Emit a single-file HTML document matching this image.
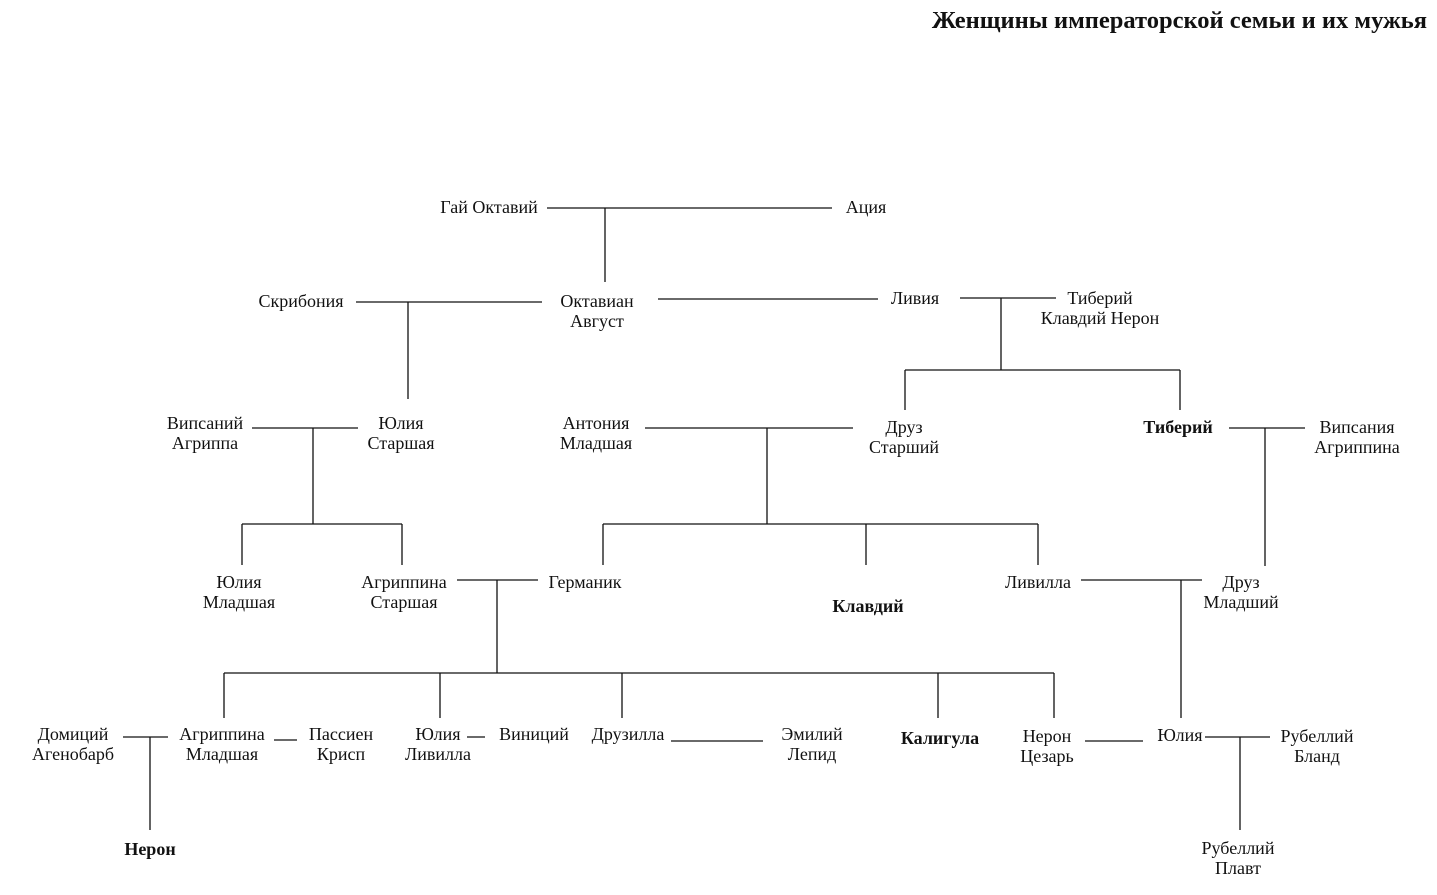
<!DOCTYPE html>
<html><head><meta charset="utf-8"><style>
html,body{margin:0;padding:0;background:#fff;}
svg{display:block;}
text{font-family:"Liberation Serif",serif;font-size:18px;fill:#111;}
.b{font-weight:bold;}
line{stroke:#111;stroke-width:1.3;}
</style></head><body>
<svg width="1437" height="895" viewBox="0 0 1437 895" xmlns="http://www.w3.org/2000/svg">
<text x="1427" y="28" text-anchor="end" class="b" style="font-size:24.5px">Женщины императорской семьи и их мужья</text>

<g text-anchor="middle">
<text x="489" y="213">Гай Октавий</text>
<text x="866" y="213">Ация</text>
<text x="301" y="307">Скрибония</text>
<text x="597" y="307">Октавиан</text><text x="597" y="327">Август</text>
<text x="915" y="304">Ливия</text>
<text x="1100" y="304">Тиберий</text><text x="1100" y="324">Клавдий Нерон</text>
<text x="205" y="429">Випсаний</text><text x="205" y="449">Агриппа</text>
<text x="401" y="429">Юлия</text><text x="401" y="449">Старшая</text>
<text x="596" y="429">Антония</text><text x="596" y="449">Младшая</text>
<text x="904" y="433">Друз</text><text x="904" y="453">Старший</text>
<text x="1178" y="433" class="b">Тиберий</text>
<text x="1357" y="433">Випсания</text><text x="1357" y="453">Агриппина</text>
<text x="239" y="588">Юлия</text><text x="239" y="608">Младшая</text>
<text x="404" y="588">Агриппина</text><text x="404" y="608">Старшая</text>
<text x="585" y="588">Германик</text>
<text x="868" y="612" class="b">Клавдий</text>
<text x="1038" y="588">Ливилла</text>
<text x="1241" y="588">Друз</text><text x="1241" y="608">Младший</text>
<text x="73" y="740">Домиций</text><text x="73" y="760">Агенобарб</text>
<text x="222" y="740">Агриппина</text><text x="222" y="760">Младшая</text>
<text x="341" y="740">Пассиен</text><text x="341" y="760">Крисп</text>
<text x="438" y="740">Юлия</text><text x="438" y="760">Ливилла</text>
<text x="534" y="740">Виниций</text>
<text x="628" y="740">Друзилла</text>
<text x="812" y="740">Эмилий</text><text x="812" y="760">Лепид</text>
<text x="940" y="744" class="b">Калигула</text>
<text x="1047" y="742">Нерон</text><text x="1047" y="762">Цезарь</text>
<text x="1180" y="741">Юлия</text>
<text x="1317" y="742">Рубеллий</text><text x="1317" y="762">Бланд</text>
<text x="150" y="855" class="b">Нерон</text>
<text x="1238" y="854">Рубеллий</text><text x="1238" y="874">Плавт</text>
</g>

<line x1="547" y1="208" x2="832" y2="208"/><line x1="605" y1="208" x2="605" y2="282"/>
<line x1="356" y1="302" x2="542" y2="302"/><line x1="408" y1="302" x2="408" y2="399"/>
<line x1="658" y1="299" x2="878" y2="299"/>
<line x1="960" y1="298" x2="1056" y2="298"/><line x1="1001" y1="298" x2="1001" y2="370"/>
<line x1="905" y1="370" x2="1180" y2="370"/><line x1="905" y1="370" x2="905" y2="410"/><line x1="1180" y1="370" x2="1180" y2="410"/>
<line x1="252" y1="428" x2="358" y2="428"/><line x1="313" y1="428" x2="313" y2="524"/>
<line x1="242" y1="524" x2="402" y2="524"/><line x1="242" y1="524" x2="242" y2="565"/><line x1="402" y1="524" x2="402" y2="565"/>
<line x1="645" y1="428" x2="853" y2="428"/><line x1="767" y1="428" x2="767" y2="524"/>
<line x1="603" y1="524" x2="1038" y2="524"/><line x1="603" y1="524" x2="603" y2="565"/><line x1="866" y1="524" x2="866" y2="565"/><line x1="1038" y1="524" x2="1038" y2="565"/>
<line x1="1229" y1="428" x2="1305" y2="428"/><line x1="1265" y1="428" x2="1265" y2="566"/>
<line x1="457" y1="580" x2="538" y2="580"/><line x1="497" y1="580" x2="497" y2="673"/>
<line x1="224" y1="673" x2="1054" y2="673"/>
<line x1="224" y1="673" x2="224" y2="718"/><line x1="440" y1="673" x2="440" y2="718"/><line x1="622" y1="673" x2="622" y2="718"/><line x1="938" y1="673" x2="938" y2="718"/><line x1="1054" y1="673" x2="1054" y2="718"/>
<line x1="1081" y1="580" x2="1202" y2="580"/><line x1="1181" y1="580" x2="1181" y2="718"/>
<line x1="123" y1="737" x2="168" y2="737"/><line x1="150" y1="737" x2="150" y2="830"/>
<line x1="274" y1="740" x2="297" y2="740"/>
<line x1="467" y1="737" x2="485" y2="737"/>
<line x1="671" y1="741" x2="763" y2="741"/>
<line x1="1085" y1="741" x2="1143" y2="741"/>
<line x1="1205" y1="737" x2="1270" y2="737"/><line x1="1240" y1="737" x2="1240" y2="830"/>
</svg>
</body></html>
